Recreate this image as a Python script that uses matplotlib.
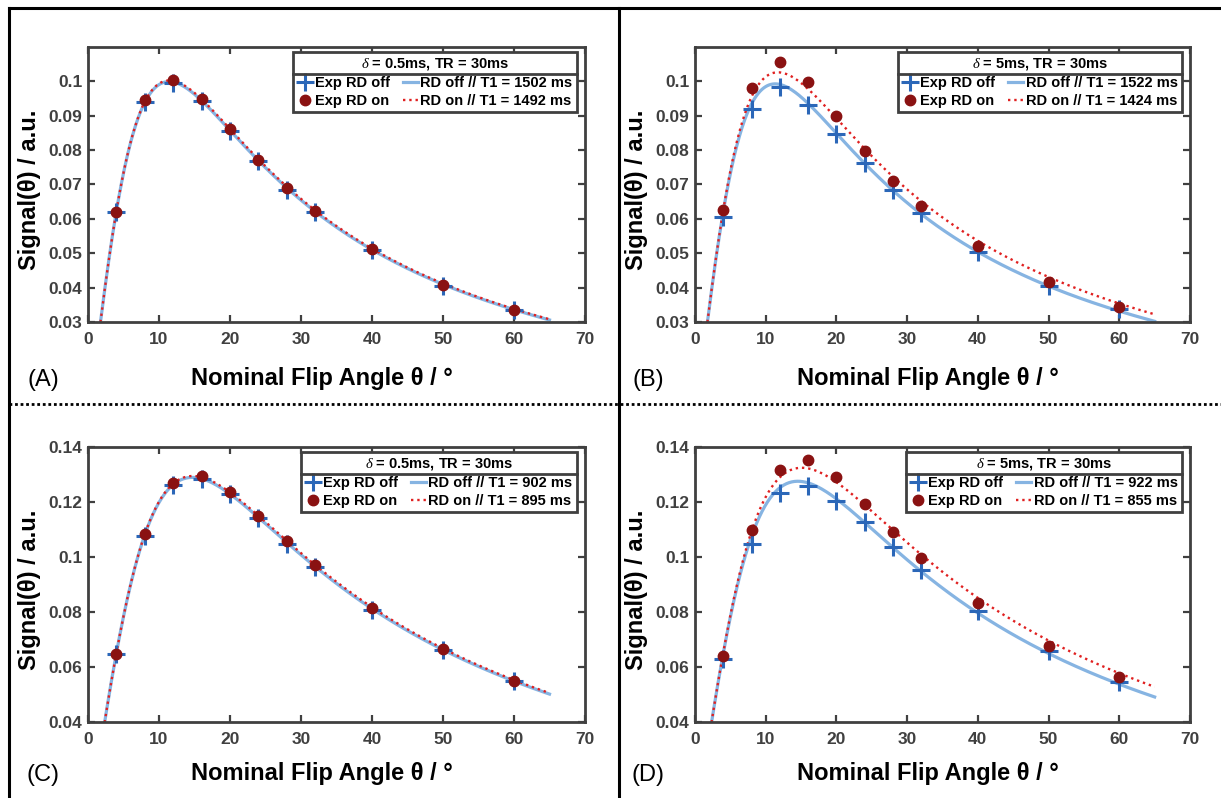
import numpy as np
import matplotlib
matplotlib.use("Agg")
import matplotlib.pyplot as plt
from matplotlib.lines import Line2D
from matplotlib.transforms import IdentityTransform

plt.rcParams['font.family'] = ['Liberation Sans', 'DejaVu Sans']
plt.rcParams['mathtext.fontset'] = 'custom'
plt.rcParams['mathtext.it'] = 'Liberation Serif:italic'

# flip angles of the measurements
theta_exp = [4, 8, 12, 16, 20, 24, 28, 32, 40, 50, 60]

# measured signal, RD off / RD on
A_off = [0.0621, 0.0939, 0.0995, 0.0944, 0.0857, 0.0767, 0.0685, 0.0619, 0.0509, 0.0405, 0.0336]
A_on = [0.0621, 0.0945, 0.1005, 0.0949, 0.0861, 0.0772, 0.0691, 0.0622, 0.0511, 0.0409, 0.0334]
B_off = [0.0605, 0.0921, 0.0983, 0.0930, 0.0848, 0.0763, 0.0685, 0.0616, 0.0504, 0.0406, 0.0339]
B_on = [0.0625, 0.0981, 0.1055, 0.0997, 0.0898, 0.0797, 0.0711, 0.0637, 0.0521, 0.0416, 0.0345]
C_off = [0.0647, 0.1075, 0.1263, 0.1282, 0.1229, 0.1143, 0.1048, 0.0964, 0.0809, 0.0662, 0.0550]
C_on = [0.0648, 0.1084, 0.1269, 0.1293, 0.1237, 0.1150, 0.1057, 0.0970, 0.0815, 0.0665, 0.0550]
D_off = [0.0629, 0.1048, 0.1232, 0.1257, 0.1205, 0.1126, 0.1036, 0.0952, 0.0802, 0.0657, 0.0547]
D_on = [0.0641, 0.1099, 0.1317, 0.1352, 0.1290, 0.1193, 0.1092, 0.0995, 0.0833, 0.0675, 0.0562]

# fitted T1 values (ms)
T1_off = [1502, 1522, 902, 922]
T1_on = [1492, 1424, 895, 855]
TR = 30.0
delta = ["0.5ms", "5ms", "0.5ms", "5ms"]
panel_tags = ["(A)", "(B)", "(C)", "(D)"]

W, H = 1221, 798
fig = plt.figure(figsize=(W / 100, H / 100), dpi=100)

# axes boxes in pixels: left, right, top, bottom
boxes = [(88, 585, 47, 322), (695, 1190, 47, 322),
         (88, 585, 447, 722), (695, 1190, 447, 722)]
ylims = [(0.03, 0.11), (0.03, 0.11), (0.04, 0.14), (0.04, 0.14)]
yticks = [[0.03, 0.04, 0.05, 0.06, 0.07, 0.08, 0.09, 0.1]] * 2 + \
         [[0.04, 0.06, 0.08, 0.1, 0.12, 0.14]] * 2

c_cross = '#2b67b8'
c_dot = '#8a1212'
c_fit_off = '#86b4e2'
c_fit_on = '#e02020'
gray = '#404040'


def spgr(theta_deg, T1):
    # steady-state spoiled gradient echo signal, M0 = 1
    th = np.deg2rad(theta_deg)
    E1 = np.exp(-TR / T1)
    return np.sin(th) * (1 - E1) / (1 - E1 * np.cos(th))


data_off = [A_off, B_off, C_off, D_off]
data_on = [A_on, B_on, C_on, D_on]
theta_fit = np.linspace(1, 65, 500)

legends = []
for i in range(4):
    l, r, t, b = boxes[i]
    ax = fig.add_axes([l / W, 1 - b / H, (r - l) / W, (b - t) / H])
    h1, = ax.plot(theta_exp, data_off[i], '+', color=c_cross, ms=13, mew=2.2, zorder=3)
    h2, = ax.plot(theta_exp, data_on[i], 'o', color=c_dot, ms=7.5, zorder=4)
    h3, = ax.plot(theta_fit, spgr(theta_fit, T1_off[i]), '-', color=c_fit_off, lw=2.3, zorder=2)
    h4, = ax.plot(theta_fit, spgr(theta_fit, T1_on[i]), ':', color=c_fit_on, lw=1.7, zorder=2)

    ax.set_xlim(0, 70)
    ax.set_ylim(*ylims[i])
    ax.set_xticks(range(0, 71, 10))
    ax.set_yticks(yticks[i])
    ax.set_yticklabels(['%g' % v for v in yticks[i]])
    ax.tick_params(direction='in', top=True, right=True, length=5, width=1.6,
                   color=gray, labelcolor=gray, labelsize=12.5)
    ax.tick_params(axis='x', pad=7)
    ax.tick_params(axis='y', pad=4)
    for lab in ax.get_xticklabels() + ax.get_yticklabels():
        lab.set_fontweight('bold')
    for sp in ax.spines.values():
        sp.set_linewidth(2)
        sp.set_color(gray)

    ax.set_xlabel('Nominal Flip Angle θ / °', fontsize=17, fontweight='bold')
    ax.xaxis.set_label_coords(0.47, -0.163 if i < 2 else -0.145)
    ax.set_ylabel('Signal(θ) / a.u.', fontsize=17, fontweight='bold')
    ax.yaxis.set_label_coords(-0.094, 0.48)

    leg = ax.legend([h1, h2, h3, h4],
                    ['Exp RD off', 'Exp RD on',
                     'RD off // T1 = %d ms' % T1_off[i], 'RD on // T1 = %d ms' % T1_on[i]],
                    ncol=2, loc='upper right',
                    bbox_to_anchor=(1 - 8 / (r - l), 1 - 5 / (b - t)), borderaxespad=0,
                    title=r'$\delta$ = %s, TR = 30ms' % delta[i],
                    prop={'weight': 'bold', 'size': 10.5},
                    title_fontproperties={'weight': 'bold', 'size': 10.5},
                    handlelength=1.0, handletextpad=0.2, columnspacing=0.9,
                    labelspacing=0.25, borderpad=0.3, fancybox=False,
                    framealpha=1, edgecolor=gray)
    leg.get_frame().set_linewidth(2)
    legends.append(leg)

    px = l - 45 if i % 2 == 0 else l - 47
    py = b + 58 if i < 2 else b + 53
    fig.text(px / W, 1 - py / H, panel_tags[i], fontsize=17, ha='center', va='center')

# panel frame lines
k = 2.2
fig.add_artist(Line2D([9 / W, 1], [1 - 8 / H, 1 - 8 / H], color='k', lw=k))
fig.add_artist(Line2D([9 / W, 9 / W], [0, 1 - 8 / H], color='k', lw=k))
fig.add_artist(Line2D([618.5 / W, 618.5 / W], [0, 1 - 8 / H], color='k', lw=k))
fig.add_artist(Line2D([9 / W, 1], [1 - 404 / H, 1 - 404 / H], color='k', lw=2,
                      linestyle=(0, (1, 1))))

# line separating the legend title from the entries
fig.canvas.draw()
for leg in legends:
    fb = leg.get_frame().get_window_extent()
    tb = leg.get_title().get_window_extent()
    y = tb.y0 - 2
    fig.add_artist(Line2D([fb.x0, fb.x1], [y, y], color=gray, lw=2,
                          transform=IdentityTransform()))

fig.savefig('out.png', dpi=100)
